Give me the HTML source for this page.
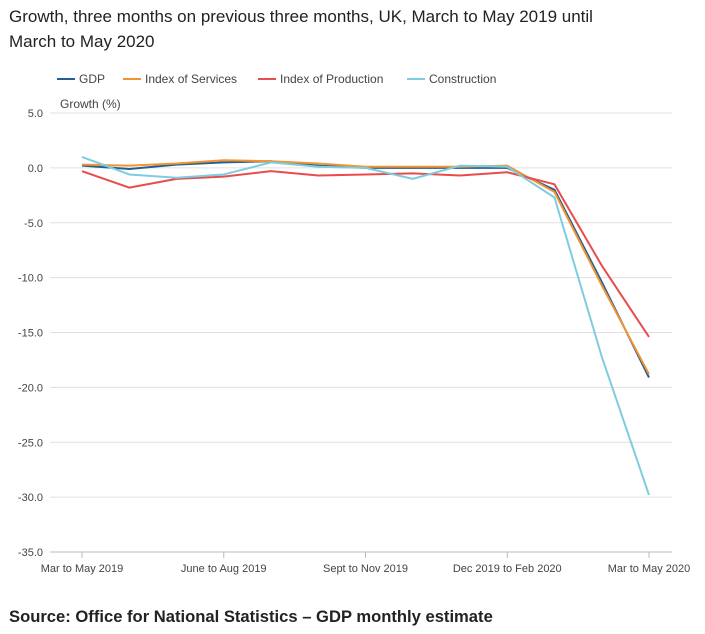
<!DOCTYPE html>
<html><head><meta charset="utf-8"><style>
body{margin:0;background:#fff;font-family:"Liberation Sans",sans-serif;}
#wrap{position:relative;width:705px;height:634px;overflow:hidden;}
.title{position:absolute;left:9px;top:4px;font-size:17px;line-height:25px;color:#222;}
.source{position:absolute;left:9px;top:607px;font-size:16.6px;font-weight:bold;color:#222;}
svg text{font-family:"Liberation Sans",sans-serif;}
</style></head><body>
<div id="wrap">
<div class="title">Growth, three months on previous three months, UK, March to May 2019 until<br>March to May 2020</div>
<svg id="chart" width="705" height="634" style="position:absolute;left:0;top:0"></svg>
<div class="source">Source: Office for National Statistics – GDP monthly estimate</div>
</div>
<script>
const categories=["Mar to May 2019","Apr to Jun 2019","May to Jul 2019","June to Aug 2019","Jul to Sep 2019","Aug to Oct 2019","Sept to Nov 2019","Oct to Dec 2019","Nov 2019 to Jan 2020","Dec 2019 to Feb 2020","Jan to Mar 2020","Feb to Apr 2020","Mar to May 2020"];
const gdp=[0.2,-0.1,0.3,0.5,0.6,0.2,0.0,0.0,0.0,0.0,-2.0,-10.4,-19.1];
const services=[0.3,0.2,0.4,0.7,0.6,0.4,0.1,0.1,0.1,0.2,-2.2,-10.7,-18.8];
const production=[-0.3,-1.8,-1.0,-0.8,-0.3,-0.7,-0.6,-0.5,-0.7,-0.4,-1.5,-8.9,-15.4];
const construction=[1.0,-0.6,-0.9,-0.6,0.5,0.1,0.0,-1.0,0.2,0.1,-2.7,-17.2,-29.8];
const yTicks=[5,0,-5,-10,-15,-20,-25,-30,-35];
const xTickIdx=[0,3,6,9,12];
const seriesNames=["GDP","Index of Services","Index of Production","Construction"];
const colors=["#206095","#F39431","#E84C4C","#7ECCE0"];

const svg=document.getElementById('chart');
const NS="http://www.w3.org/2000/svg";
const x0=82,x1=649,yTop=113,yBot=552,vMax=5,vMin=-35;
function xs(i){return x0+(x1-x0)*i/(categories.length-1);}
function ys(v){return yTop+(vMax-v)/(vMax-vMin)*(yBot-yTop);}
function mk(t,a){const e=document.createElementNS(NS,t);for(const k in a)e.setAttribute(k,a[k]);svg.appendChild(e);return e;}

yTicks.forEach(v=>{
  const g=mk('line',{x1:50,x2:672,y1:ys(v),y2:ys(v),stroke:v===-35?'#bbb':'#e0e0e0','stroke-width':1});
  
  
  const t=mk('text',{x:43,y:ys(v)+4,'text-anchor':'end','font-size':11,fill:'#444'});
  t.textContent=v.toFixed(1);
  
  
});
const yt=mk('text',{x:60,y:108,'font-size':12,fill:'#444'});
yt.textContent="Growth (%)";



xTickIdx.forEach(i=>{
  const l=mk('line',{x1:xs(i),x2:xs(i),y1:552,y2:558,stroke:'#bbb'});
  
  
  const t=mk('text',{x:xs(i),y:572,'text-anchor':'middle','font-size':11,fill:'#444'});
  t.textContent=categories[i];
  
  
});

[gdp,services,production,construction].forEach((s,k)=>{
  const p=mk('polyline',{points:s.map((v,i)=>xs(i)+','+ys(v)).join(' '),fill:'none',stroke:colors[k],'stroke-width':2,'stroke-linejoin':'round'});
  
  
});

const legX=[57,123,258,407];
seriesNames.forEach((n,k)=>{
  const l=mk('line',{x1:legX[k],x2:legX[k]+18,y1:79,y2:79,stroke:colors[k],'stroke-width':2});
  
  
  const t=mk('text',{x:legX[k]+22,y:83,'font-size':12,fill:'#444'});
  t.textContent=n;
  
  
});
</script>
</body></html>
